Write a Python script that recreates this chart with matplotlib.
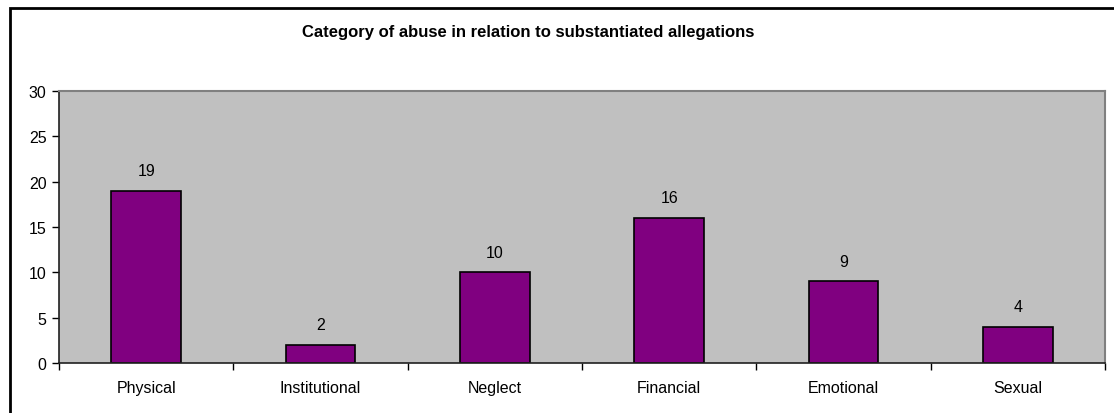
import matplotlib.pyplot as plt
from matplotlib.patches import Rectangle

# ------ Data ------
categories = ["Physical", "Institutional", "Neglect", "Financial", "Emotional", "Sexual"]
counts = [19, 2, 10, 16, 9, 4]
yticks = [0, 5, 10, 15, 20, 25, 30]

W, H = 1114, 414
plt.rcParams["font.family"] = ["Liberation Sans", "DejaVu Sans"]

fig = plt.figure(figsize=(W / 100, H / 100), dpi=100)

# plot area in pixels: left 59, right 1105, top 92, bottom 364
ax = fig.add_axes([59 / W, 1 - 364 / H, (1105 - 59) / W, (364 - 92) / H])
ax.set_facecolor("#c0c0c0")

x = range(len(categories))
bars = ax.bar(x, counts, width=0.4, color="#800080", edgecolor="black", linewidth=1.2)
for b, v in zip(bars, counts):
    ax.text(b.get_x() + b.get_width() / 2, v + 1.4, str(v), ha="center", va="bottom", fontsize=11.5)

ax.set_xlim(-0.5, len(categories) - 0.5)
ax.set_ylim(0, 30)
ax.set_yticks(yticks)
ax.tick_params(axis="y", length=5, width=1, labelsize=11.5, pad=4)

# category labels centred, tick marks between categories
ax.set_xticks(list(x))
ax.set_xticklabels(categories, fontsize=11.5)
ax.tick_params(axis="x", which="major", length=0, pad=12)
ax.set_xticks([i - 0.5 for i in range(len(categories) + 1)], minor=True)
ax.tick_params(axis="x", which="minor", length=5, width=1)

for side in ["top", "right"]:
    ax.spines[side].set_color("#808080")
    ax.spines[side].set_linewidth(1.5)
for side in ["left", "bottom"]:
    ax.spines[side].set_color("#202020")
    ax.spines[side].set_linewidth(1.2)

fig.text(528 / W, 1 - 32 / H, "Category of abuse in relation to substantiated allegations",
         ha="center", va="center", fontsize=12, fontweight="bold")

# chart border, runs off the right and bottom edges
fig.patches.append(Rectangle((10 / W, -0.05), 1.2, 1 - 9 / H + 0.05, transform=fig.transFigure,
                             fill=False, edgecolor="black", linewidth=2))

fig.savefig("out.png", dpi=100)
